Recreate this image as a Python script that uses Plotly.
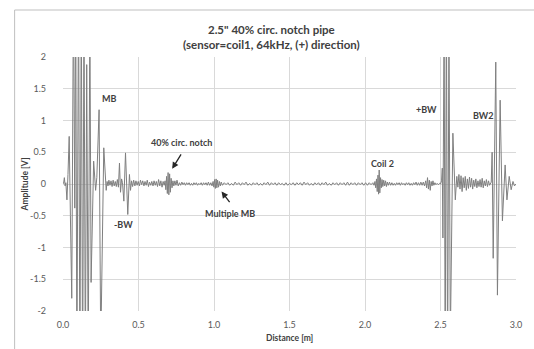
import plotly.graph_objects as go

# ---- data (distance [m], amplitude [V]) ----
initial_pulse = [
    (0.000, 0.00), (0.005, 0.03), (0.009, 0.10), (0.014, -0.03), (0.019, 0.02),
    (0.026, -0.25), (0.033, 0.15), (0.041, 0.75), (0.049, -0.50), (0.058, -1.80),
    (0.069, 3.00), (0.078, -0.38), (0.084, 3.10), (0.092, -3.00), (0.103, 3.20),
    (0.112, -3.10), (0.121, 3.00), (0.130, -3.20), (0.139, 2.90), (0.148, -3.00),
    (0.157, 1.88), (0.167, -2.80), (0.178, 2.70), (0.186, -1.55), (0.203, 0.36),
    (0.210, 0.05), (0.216, -0.10), (0.224, 0.10), (0.239, 1.17), (0.250, -2.60),
    (0.270, 0.57), (0.286, -0.10), (0.292, 0.04),
]
minus_bw = [
    (0.298, -0.03), (0.304, 0.06), (0.311, -0.02), (0.318, 0.05), (0.325, -0.04),
    (0.332, 0.06), (0.339, -0.03), (0.346, 0.04), (0.353, -0.04), (0.360, 0.07),
    (0.367, -0.05), (0.374, 0.33), (0.381, -0.13), (0.388, 0.08), (0.394, 0.02),
    (0.403, -0.27), (0.414, 0.49), (0.429, -0.48), (0.440, 0.15), (0.447, -0.10),
    (0.454, 0.05), (0.461, -0.04),
]
pre_notch = [
    (0.468, 0.06), (0.476, -0.03), (0.483, 0.05), (0.491, -0.02), (0.498, 0.04),
    (0.506, -0.03), (0.513, 0.06), (0.521, -0.01), (0.528, 0.05), (0.536, -0.03),
    (0.543, 0.04), (0.551, -0.02), (0.558, 0.06), (0.566, -0.04), (0.573, 0.03),
    (0.581, -0.02), (0.588, 0.04), (0.596, -0.03), (0.603, 0.05), (0.611, -0.02),
    (0.618, 0.04), (0.626, -0.04), (0.633, 0.07), (0.641, -0.03), (0.648, 0.05),
    (0.656, -0.05), (0.663, 0.04), (0.670, -0.02),
]
notch_echo = [
    (0.676, 0.05), (0.681, -0.09), (0.686, 0.12), (0.691, -0.15), (0.696, 0.18),
    (0.701, -0.17), (0.706, 0.16), (0.711, -0.13), (0.716, 0.09), (0.722, -0.06),
    (0.728, 0.05), (0.734, -0.03),
]
post_notch = [
    (0.741, 0.05), (0.748, -0.02), (0.755, 0.06), (0.763, -0.03), (0.771, 0.02),
    (0.779, -0.02), (0.787, 0.03), (0.795, -0.01), (0.803, 0.02), (0.811, -0.02),
    (0.819, 0.02), (0.827, -0.01), (0.835, 0.02), (0.843, -0.02), (0.851, 0.01),
    (0.859, -0.02), (0.867, 0.02), (0.875, -0.01), (0.883, 0.02), (0.891, -0.02),
    (0.899, 0.01), (0.907, -0.01), (0.915, 0.02), (0.923, -0.02), (0.931, 0.02),
    (0.939, -0.01), (0.947, 0.02), (0.955, -0.02), (0.963, 0.03), (0.971, -0.02),
    (0.979, 0.02), (0.987, -0.03),
]
multiple_mb = [
    (0.994, 0.04), (0.999, -0.05), (1.004, 0.07), (1.009, -0.07), (1.014, 0.08),
    (1.019, -0.06), (1.024, 0.06), (1.030, -0.05), (1.036, 0.04), (1.042, -0.03),
    (1.048, 0.03),
]
mid_noise_a = [
    (1.056, -0.02), (1.068, 0.02), (1.080, -0.01), (1.092, 0.02), (1.104, -0.02),
    (1.116, 0.01), (1.128, -0.02), (1.140, 0.03), (1.152, -0.01), (1.164, 0.02),
    (1.176, -0.02), (1.188, 0.02), (1.200, -0.01), (1.212, 0.03), (1.224, -0.02),
    (1.236, 0.01), (1.248, -0.02), (1.260, 0.02), (1.272, -0.01), (1.284, 0.02),
    (1.296, -0.02), (1.308, 0.01), (1.320, -0.02), (1.332, 0.02), (1.344, -0.01),
    (1.356, 0.03), (1.368, -0.02), (1.380, 0.02), (1.392, -0.01), (1.404, 0.02),
    (1.416, -0.02), (1.428, 0.02), (1.440, -0.01), (1.452, 0.01), (1.464, -0.02),
    (1.476, 0.02), (1.488, -0.02), (1.500, 0.01), (1.512, -0.01), (1.524, 0.02),
    (1.536, -0.02), (1.548, 0.02),
]
mid_noise_b = [
    (1.560, -0.01), (1.572, 0.02), (1.584, -0.02), (1.596, 0.03), (1.608, -0.01),
    (1.620, 0.02), (1.632, -0.02), (1.644, 0.01), (1.656, -0.02), (1.668, 0.02),
    (1.680, -0.01), (1.692, 0.02), (1.704, -0.02), (1.716, 0.02), (1.728, -0.01),
    (1.740, 0.03), (1.752, -0.02), (1.764, 0.01), (1.776, -0.02), (1.788, 0.02),
    (1.800, -0.01), (1.812, 0.02), (1.824, -0.02), (1.836, 0.02), (1.848, -0.01),
    (1.860, 0.02), (1.872, -0.02), (1.884, 0.03), (1.896, -0.02), (1.908, 0.02),
    (1.920, -0.01), (1.932, 0.02), (1.944, -0.02), (1.956, 0.02), (1.968, -0.01),
    (1.980, 0.02), (1.992, -0.02), (2.004, 0.02), (2.016, -0.02), (2.028, 0.02),
    (2.040, -0.01), (2.052, 0.02),
]
coil2_echo = [
    (2.060, -0.02), (2.066, 0.04), (2.071, -0.06), (2.076, 0.08), (2.081, -0.12),
    (2.086, 0.14), (2.090, -0.16), (2.094, 0.22), (2.098, -0.14), (2.103, 0.10),
    (2.108, -0.06), (2.113, 0.07), (2.118, -0.04), (2.124, 0.06), (2.130, -0.03),
    (2.136, 0.05), (2.142, -0.04), (2.148, 0.03), (2.155, -0.02),
]
pre_bw = [
    (2.162, 0.03), (2.170, -0.02), (2.178, 0.02), (2.186, -0.02), (2.194, 0.01),
    (2.202, -0.02), (2.210, 0.02), (2.218, -0.01), (2.226, 0.02), (2.234, -0.02),
    (2.242, 0.02), (2.250, -0.01), (2.258, 0.01), (2.266, -0.02), (2.274, 0.02),
    (2.282, -0.01), (2.290, 0.02), (2.298, -0.02), (2.306, 0.01), (2.314, -0.02),
    (2.322, 0.02), (2.330, -0.01), (2.338, 0.03), (2.346, -0.02), (2.354, 0.02),
    (2.362, -0.02), (2.370, 0.03), (2.378, -0.02), (2.386, 0.03), (2.394, -0.03),
    (2.402, 0.05), (2.408, -0.06), (2.414, 0.10), (2.420, -0.08), (2.426, 0.06),
    (2.432, -0.10), (2.438, 0.04), (2.444, -0.03), (2.450, 0.05), (2.456, -0.02),
    (2.463, 0.02), (2.470, -0.01), (2.478, 0.01), (2.486, -0.01), (2.494, 0.01),
]
plus_bw = [
    (2.500, 0.00), (2.507, 0.05), (2.512, 0.25), (2.516, -0.85), (2.524, 2.80),
    (2.531, -3.00), (2.539, 3.00), (2.547, -3.00), (2.556, 2.60), (2.565, -2.50),
    (2.582, 0.80), (2.598, -0.25),
]
between_bw = [
    (2.608, 0.12), (2.615, -0.05), (2.622, 0.15), (2.629, -0.08), (2.636, 0.13),
    (2.643, -0.12), (2.650, 0.10), (2.657, -0.06), (2.664, 0.12), (2.671, -0.10),
    (2.678, 0.08), (2.685, -0.07), (2.692, 0.11), (2.699, -0.05), (2.706, 0.09),
    (2.713, -0.08), (2.720, 0.06), (2.727, -0.04), (2.734, 0.08), (2.741, -0.06),
    (2.748, 0.05), (2.755, -0.04), (2.762, 0.07), (2.769, -0.05), (2.776, 0.09),
    (2.783, -0.06), (2.790, 0.05), (2.797, -0.03), (2.804, 0.07), (2.811, -0.04),
    (2.818, 0.05), (2.825, -0.02), (2.831, 0.03),
]
bw2 = [
    (2.836, 0.03), (2.842, 0.50), (2.849, -1.17), (2.866, 1.92), (2.877, -1.75),
    (2.895, 1.32), (2.910, -0.58), (2.928, 0.30), (2.940, -0.25), (2.955, 0.12),
    (2.968, -0.09), (2.980, 0.04), (2.990, -0.03), (3.000, 0.00),
]

segments = [initial_pulse, minus_bw, pre_notch, notch_echo, post_notch, multiple_mb,
            mid_noise_a, mid_noise_b, coil2_echo, pre_bw, plus_bw, between_bw, bw2]
distance = [p[0] for seg in segments for p in seg]
amplitude = [p[1] for seg in segments for p in seg]

x_ticks = [0.0, 0.5, 1.0, 1.5, 2.0, 2.5, 3.0]
x_ticktext = ["0.0", "0.5", "1.0", "1.5", "2.0", "2.5", "3.0"]
y_ticks = [-2, -1.5, -1, -0.5, 0, 0.5, 1, 1.5, 2]
y_ticktext = ["-2", "-1.5", "-1", "-0.5", "0", "0.5", "1", "1.5", "2"]

# labels: (text, x, y)
labels = [
    ("MB", 0.309, 1.34),
    ("-BW", 0.40, -0.64),
    ("40% circ. notch", 0.783, 0.66),
    ("Multiple MB", 1.105, -0.46),
    ("Coil 2", 2.117, 0.33),
    ("+BW", 2.405, 1.18),
    ("BW2", 2.782, 1.08),
]
# arrows: (tip_x, tip_y, tail_x, tail_y)
arrows = [
    (0.723, 0.24, 0.788, 0.49),
    (1.05, -0.12, 1.111, -0.31),
]

FONT = "Lato, 'Liberation Sans', Arial, sans-serif"
TXT = "#404040"

fig = go.Figure()
fig.add_trace(go.Scatter(
    x=distance, y=amplitude, mode="lines",
    line=dict(color="#7f7f7f", width=1),
    hoverinfo="skip", showlegend=False,
))

annotations = []
for t, x, y in labels:
    annotations.append(dict(x=x, y=y, xref="x", yref="y", text=t, showarrow=False,
                            font=dict(family=FONT, size=9, color=TXT, weight="bold")))
for tx, ty, sx, sy in arrows:
    annotations.append(dict(x=tx, y=ty, xref="x", yref="y", ax=sx, ay=sy,
                            axref="x", ayref="y", text="", showarrow=True,
                            arrowhead=2, arrowsize=1, arrowwidth=1.3, arrowcolor="#262626"))
annotations.append(dict(x=0.5, y=-0.106, xref="paper", yref="paper", text="Distance [m]",
                        showarrow=False, yanchor="middle",
                        font=dict(family=FONT, size=8.5, color=TXT, weight="bold")))
annotations.append(dict(x=-0.083, y=0.5, xref="paper", yref="paper", text="Amplitude [V]",
                        showarrow=False, textangle=-90, xanchor="center", yanchor="middle",
                        font=dict(family=FONT, size=8.5, color=TXT, weight="bold")))

fig.update_layout(
    width=534, height=349,
    margin=dict(l=63, r=12, t=57, b=38),
    paper_bgcolor="white", plot_bgcolor="white",
    title=dict(text='2.5" 40% circ. notch pipe<br>(sensor=coil1, 64kHz, (+) direction)',
               x=0.46, xref="paper", xanchor="center", y=0.903, yanchor="middle",
               font=dict(family=FONT, size=11.5, color=TXT, weight="bold")),
    xaxis=dict(range=[0, 3], tickvals=x_ticks, ticktext=x_ticktext,
               showgrid=True, gridcolor="#d9d9d9", gridwidth=1,
               zeroline=False, showline=False, ticks="",
               tickfont=dict(family=FONT, size=9, color="#595959"),
               ticklabelstandoff=7),
    yaxis=dict(range=[-2, 2], tickvals=y_ticks, ticktext=y_ticktext,
               showgrid=True, gridcolor="#d9d9d9", gridwidth=1,
               zeroline=False, showline=False, ticks="",
               tickfont=dict(family=FONT, size=9, color="#595959"),
               ticklabelstandoff=16),
    annotations=annotations,
    shapes=[dict(type="rect", xref="paper", yref="paper",
                 x0=-0.1068, x1=1.05, y0=-0.2, y1=1.185,
                 line=dict(color="#bfbfbf", width=1), fillcolor="rgba(0,0,0,0)",
                 layer="below")],
)

fig.write_html("out.html", config={"displayModeBar": False},
               post_script="document.body.style.margin='0';document.body.style.overflow='hidden';")
